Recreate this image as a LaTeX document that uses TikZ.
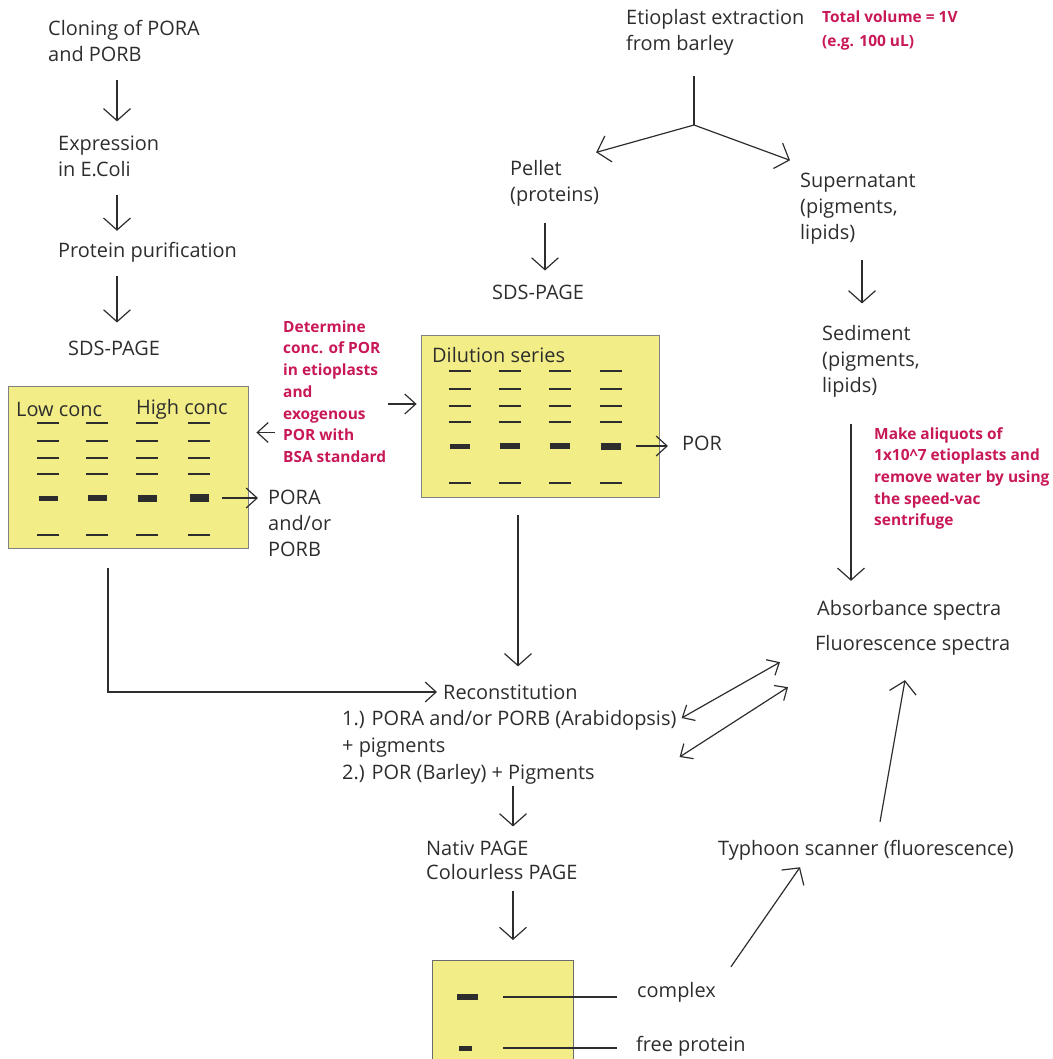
\documentclass[tikz,border=0pt]{standalone}
\usepackage{fontspec}
\setmainfont{Open Sans}
\usepackage{tikz}
\usetikzlibrary{arrows.meta}

\definecolor{gelyellow}{RGB}{242,237,134}
\definecolor{notered}{RGB}{200,24,88}
\definecolor{ink}{RGB}{45,45,45}

\tikzset{
  lbl/.style={anchor=west, align=left, inner sep=0pt, text=ink,
    font=\fontsize{20}{26}\selectfont},
  note/.style={anchor=west, align=left, inner sep=0pt, text=notered,
    font=\fontsize{15.5}{21.8}\selectfont\bfseries},
  gel/.style={fill=gelyellow, draw=ink!60, line width=0.8pt, inner sep=0pt},
  link/.style={draw=ink, line width=1.2pt},
  arr/.style={link, -{Straight Barb[length=12pt,width=27pt]}},
  sarr/.style={link, -{Straight Barb[length=11pt,width=20pt]}},
  dbl/.style={link, {Straight Barb[length=10pt,width=18pt]}-{Straight Barb[length=10pt,width=18pt]}},
  band/.style={draw=ink, line width=1.4pt},
}

\begin{document}
\begin{tikzpicture}[x=1bp, y=-1bp]
\useasboundingbox (0,0) rectangle (1053,1059);

% columns for the vertical arrows
\coordinate (colA) at (117,0);
\coordinate (colL) at (108,0);
\coordinate (colB) at (518,0);
\coordinate (colP) at (545,0);
\coordinate (colS) at (862,0);
\coordinate (colT) at (851,0);
\coordinate (colR) at (513,0);
\coordinate (fork) at (694,125);

% left branch: cloned protein
\node[lbl] (cloning) at (48,41) {Cloning of PORA\\and PORB};
\node[lbl] (expr) at (58,156) {Expression\\in E.Coli};
\node[lbl] (purif) at (58,252) {Protein purification};
\node[lbl] (sdsA) at (68,348) {SDS-PAGE};

\node[gel, minimum width=240bp, minimum height=162bp] (gelA) at (128,467) {};
\node[lbl] (low) at (16,409) {Low conc};
\node[lbl] (high) at (136,409) {High conc};
\foreach \x/\h in {48/5,97/6,147/7,199/8} {
  \foreach \y in {423,441,458,474,535}
    \draw[band] (\x-11,\y) -- (\x+11,\y);
  \draw[band, line width=\h bp] (\x-9.5,498) -- (\x+9.5,498);
}
\coordinate (bandA) at (211,498);
\node[lbl] (pora) at (268,523) {PORA\\and/or\\PORB};

\node[note] (determine) at (283,391.5) {Determine\\conc. of POR\\in etioplasts\\and\\exogenous\\POR with\\BSA standard};

% middle: etioplasts
\node[lbl] (etio) at (626,32) {Etioplast extraction\\from barley};
\node[note, font=\fontsize{15.5}{25}\selectfont\bfseries] (total) at (822,30.5) {Total volume = 1V\\(e.g. 100 uL)};
\node[lbl] (pellet) at (510,183.5) {Pellet\\(proteins)};
\node[lbl] (sdsB) at (492,292) {SDS-PAGE};
\node[lbl] (super) at (800,209) {Supernatant\\(pigments,\\lipids)};
\node[lbl] (sediment) at (822,361.5) {Sediment\\(pigments,\\lipids)};

\node[gel, minimum width=238bp, minimum height=162bp] (gelB) at (540,416) {};
\node[lbl] (dilution) at (432,355) {Dilution series};
\foreach \x/\h in {459.5/5,509.5/6,559.5/6,610.5/7} {
  \foreach \y in {371,389,406,422,483}
    \draw[band] (\x-11,\y) -- (\x+11,\y);
  \draw[band, line width=\h bp] (\x-10,446) -- (\x+10,446);
}
\coordinate (bandB) at (622,446);
\node[lbl] (por) at (682,443) {POR};

\node[note] (aliquots) at (874,478.5) {Make aliquots of\\1x10\^{}7 etioplasts and\\remove water by using\\the speed-vac\\sentrifuge};
\node[lbl] (absorb) at (817,610) {Absorbance spectra};
\node[lbl] (fluor) at (815,645) {Fluorescence spectra};

% reconstitution and native gel
\node[lbl] (recon) at (443,692) {Reconstitution};
\node[lbl, font=\fontsize{20}{27}\selectfont] (steps) at (342,747) {1.) PORA and/or PORB (Arabidopsis)\\+ pigments\\2.) POR (Barley) + Pigments};
\node[lbl, font=\fontsize{20}{24}\selectfont] (nativ) at (426,860) {Nativ PAGE\\Colourless PAGE};

\node[fill=gelyellow, inner sep=0pt, anchor=north west, minimum width=141bp, minimum height=99bp] (gelC) at (432,960) {};
\draw[ink!70, line width=0.9pt] (gelC.south west) |- (gelC.north east) -- (gelC.south east);
\draw[band, line width=6bp] (457,997) -- (478,997);
\draw[band, line width=5bp] (459,1048) -- (472,1048);
\coordinate (bandC) at (503,997);
\coordinate (bandD) at (503,1048);
\node[lbl] (complex) at (637,992) {complex};
\node[lbl] (free) at (636,1046) {free protein};
\node[lbl] (typhoon) at (718,850) {Typhoon scanner (fluorescence)};

% connectors
\draw[arr, shorten <=18bp, shorten >=14bp] (cloning.south -| colA) -- (expr.north -| colA);
\draw[arr, shorten <=18bp, shorten >=11bp] (expr.south -| colA) -- (purif.north -| colA);
\draw[arr, shorten <=14bp, shorten >=18bp] (purif.south -| colA) -- (sdsA.north -| colA);
\draw[sarr, shorten <=11bp, shorten >=10bp] (bandA) -- (pora.west |- bandA);
\draw[sarr, shorten <=8bp, shorten >=8bp] ([yshift=-41bp]determine.west) -- ([yshift=-41bp]determine.west -| gelA.east);
\draw[sarr, shorten <=2bp, shorten >=4bp] ([yshift=-12.5bp]determine.east) -- ([yshift=-12.5bp]determine.east -| gelB.west);
\draw[sarr, shorten <=14bp, shorten >=14bp] (bandB) -- (por.west |- bandB);

\draw[link, shorten <=21bp] (etio.south -| fork) -- (fork);
\draw[arr] (fork) -- ([shift={(-3bp,8bp)}]pellet.north east);
\draw[arr] (fork) -- ([shift={(-10bp,13bp)}]super.north west);
\draw[arr, shorten <=16bp, shorten >=14bp] (pellet.south -| colP) -- (sdsB.north -| colP);
\draw[arr, shorten <=15bp, shorten >=22bp] (super.south -| colS) -- (sediment.north -| colS);
\draw[arr, shorten <=26bp, shorten >=19bp] (sediment.south -| colT) -- (absorb.north -| colT);

\draw[arr, shorten <=18bp, shorten >=18bp] (gelB.south -| colB) -- (recon.north -| colB);
\draw[sarr, shorten <=20bp, shorten >=6bp] (gelA.south -| colL) |- (recon.west);
\draw[dbl] ([shift={(5bp,29bp)}]steps.east) -- ([shift={(-35bp,-7bp)}]fluor.south west);
\draw[dbl] ([shift={(3bp,-10bp)}]steps.east) -- ([shift={(-27bp,-32bp)}]fluor.south west);
\draw[arr, shorten <=2bp, shorten >=14bp] (steps.south -| colR) -- (nativ.north -| colR);
\draw[arr, shorten <=11bp, shorten >=20bp] (nativ.south -| colR) -- (gelC.north -| colR);

\draw[link, shorten >=20bp] (bandC) -- (complex.west |- bandC);
\draw[link, shorten >=19bp] (bandD) -- (free.west |- bandD);
\draw[arr] ([shift={(15bp,15bp)}]complex.north east) -- ([shift={(82bp,-7bp)}]typhoon.south west);
\draw[arr] ([shift={(162bp,18bp)}]typhoon.north west) -- ([shift={(90bp,-25bp)}]fluor.south west);
\end{tikzpicture}
\end{document}
